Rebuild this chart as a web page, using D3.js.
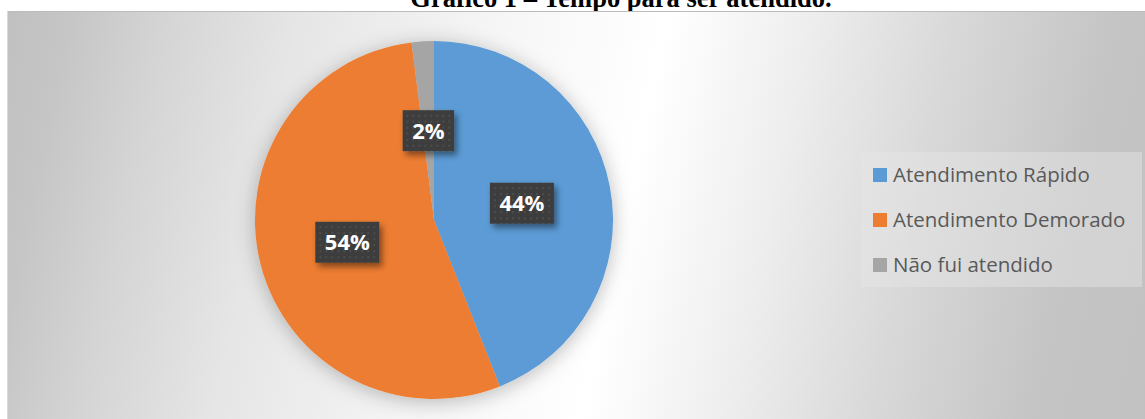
<!DOCTYPE html>
<html><head><meta charset="utf-8">
<script src="https://cdn.jsdelivr.net/npm/d3@7"></script>
<style>html,body{margin:0;padding:0;background:#fff;overflow:hidden}</style>
</head><body><svg id="c" width="1145" height="419"></svg>
<script>
const title = "Gráfico 1 – Tempo para ser atendido.";
const categories = ["Atendimento Rápido", "Atendimento Demorado", "Não fui atendido"];
const values = [44, 54, 2];
const valueLabels = ["44%", "54%", "2%"];
const colors = ["#5b9bd5", "#ed7d31", "#a5a5a5"];

const W = 1145, H = 419;
const svg = d3.select("#c");
const defs = svg.append("defs");

// background gradient
const ang = 12 * Math.PI / 180;
const L = 1240;
const bg = defs.append("linearGradient").attr("id", "bg")
  .attr("gradientUnits", "userSpaceOnUse")
  .attr("x1", 0).attr("y1", 0)
  .attr("x2", L * Math.cos(ang)).attr("y2", L * Math.sin(ang));
[[0, "#bfbfbf"], [0.06, "#c6c6c6"], [0.13, "#d4d4d4"], [0.24, "#e6e6e6"], [0.4, "#f6f6f6"],
 [0.53, "#ffffff"], [0.64, "#eeeeee"], [0.76, "#d8d8d8"], [0.88, "#c5c5c5"], [1, "#c0c0c0"]]
  .forEach(([o, c]) => bg.append("stop").attr("offset", o).attr("stop-color", c));

// pie shadow
const sh = defs.append("filter").attr("id", "pieShadow").attr("x", "-30%").attr("y", "-30%").attr("width", "160%").attr("height", "160%");
sh.append("feDropShadow").attr("dx", 0).attr("dy", 3).attr("stdDeviation", 10)
  .attr("flood-color", "#000").attr("flood-opacity", 0.26);

// label shadow
const ls = defs.append("filter").attr("id", "lblShadow").attr("x", "-30%").attr("y", "-30%").attr("width", "160%").attr("height", "160%");
ls.append("feDropShadow").attr("dx", 3).attr("dy", 4).attr("stdDeviation", 3)
  .attr("flood-color", "#000").attr("flood-opacity", 0.45);

// dotted pattern
const pat = defs.append("pattern").attr("id", "dots").attr("patternUnits", "userSpaceOnUse")
  .attr("width", 6).attr("height", 6);
pat.append("rect").attr("width", 6).attr("height", 6).attr("fill", "#3d3d3d");
pat.append("rect").attr("x", 2).attr("y", 2).attr("width", 2).attr("height", 2).attr("fill", "#4d4d4d");

// title (cut off at the top edge, as in the reference)
svg.append("text").attr("x", 621).attr("y", 7).attr("text-anchor", "middle")
  .style("font-family", "'Liberation Serif', 'Times New Roman', serif").attr("font-weight", "bold")
  .attr("font-size", 26.5).attr("fill", "#000").text(title);

// chart area
const area = { x: 7, y: 11, w: W - 7, h: H - 11 };
svg.append("rect").attr("x", area.x).attr("y", area.y).attr("width", area.w).attr("height", area.h)
  .attr("fill", "url(#bg)");
svg.append("line").attr("x1", area.x).attr("x2", W).attr("y1", area.y + 0.5).attr("y2", area.y + 0.5)
  .attr("stroke", "#bcbcbc").attr("stroke-width", 1);
svg.append("line").attr("x1", area.x + 0.5).attr("x2", area.x + 0.5).attr("y1", area.y).attr("y2", H)
  .attr("stroke", "#d9d9d9").attr("stroke-width", 1);

// pie
const cx = 434, cy = 220, r = 179;
const pie = d3.pie().sort(null).value(d => d)(values);
const arc = d3.arc().innerRadius(0).outerRadius(r);
const labelArc = d3.arc().innerRadius(r * 0.5).outerRadius(r * 0.5);
const g = svg.append("g").attr("transform", `translate(${cx},${cy})`);
const pg = g.append("g").attr("filter", "url(#pieShadow)");
pg.selectAll("path").data(pie).join("path")
  .attr("d", arc).attr("fill", (d, i) => colors[i]);

// data labels
const lg = g.append("g");
pie.forEach((d, i) => {
  const [x, y] = labelArc.centroid(d);
  const grp = lg.append("g").attr("transform", `translate(${x},${y})`);
  const t = grp.append("text").attr("text-anchor", "middle").attr("y", 8)
    .style("font-family", "'Open Sans', sans-serif").attr("font-weight", "bold")
    .attr("font-size", 22).attr("fill", "#fff").text(valueLabels[i]);
  const tw = t.node().getComputedTextLength();
  const bw = tw + 19, bh = 41;
  grp.insert("rect", "text").attr("x", -bw / 2).attr("y", -bh / 2).attr("width", bw).attr("height", bh)
    .attr("fill", "url(#dots)").attr("filter", "url(#lblShadow)");
});

// legend
const legend = svg.append("g");
legend.append("rect").attr("x", 861).attr("y", 152).attr("width", 281).attr("height", 135)
  .attr("fill", "#e6e6e6").attr("fill-opacity", 0.45);
const legendY = d3.scalePoint().domain(categories).range([175, 265]);
categories.forEach((c, i) => {
  const yc = legendY(c);
  legend.append("rect").attr("x", 873).attr("y", yc - 7).attr("width", 14).attr("height", 14).attr("fill", colors[i]);
  legend.append("text").attr("x", 893).attr("y", yc + 7).style("font-family", "'Open Sans', sans-serif")
    .attr("font-size", 20.5).attr("fill", "#595959").text(c);
});
</script></body></html>
